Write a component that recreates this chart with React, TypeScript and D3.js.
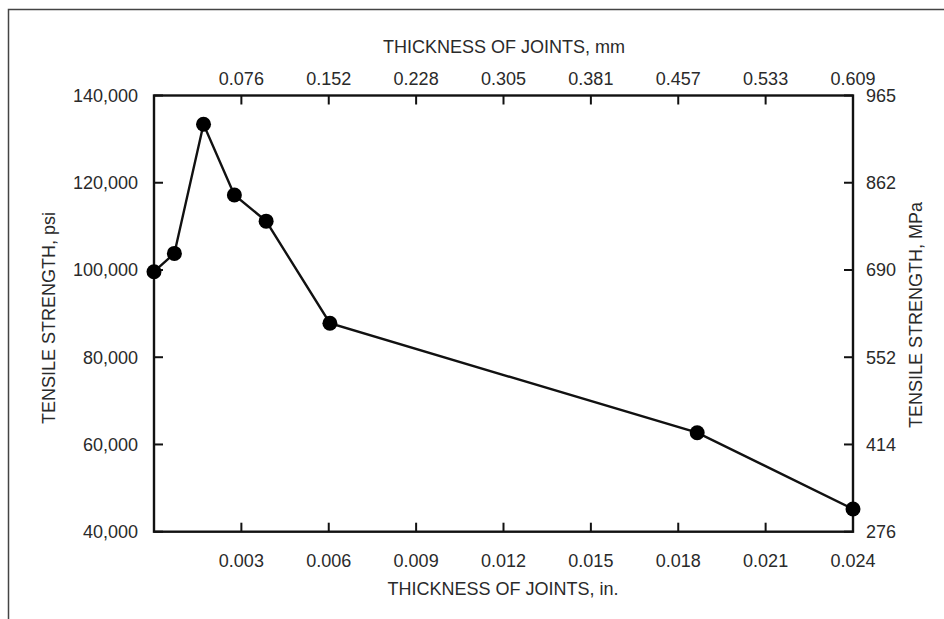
import React, { useEffect, useRef } from 'react';
import * as d3 from 'd3';

// thickness of joints (in.) and tensile strength (psi)
const thickness = [0.0, 0.0007, 0.0017, 0.00276, 0.00385, 0.00604, 0.01865, 0.024];
const strength = [99600, 103800, 133400, 117200, 111200, 87800, 62700, 45200];

const inTicks = [0.003, 0.006, 0.009, 0.012, 0.015, 0.018, 0.021, 0.024];
const mmLabels = ['0.076', '0.152', '0.228', '0.305', '0.381', '0.457', '0.533', '0.609'];
const psiTicks = [40000, 60000, 80000, 100000, 120000, 140000];
const mpaLabels = ['276', '414', '552', '690', '862', '965'];

const W = 944;
const H = 619;
const FONT = '"Liberation Sans", Arial, Helvetica, sans-serif';
const INK = '#111';
const TXT = '#2a2a2a';
const FS = 18;

export default function App() {
  const ref = useRef<SVGSVGElement>(null);

  useEffect(() => {
    const svg = d3.select(ref.current);
    svg.selectAll('*').remove();

    const left = 154, right = 853, top = 95.5, bottom = 531.7;
    const x = d3.scaleLinear().domain([0, 0.024]).range([left, right]);
    const y = d3.scaleLinear().domain([40000, 140000]).range([bottom, top]);

    // outer frame (top and left only visible)
    svg.append('path')
      .attr('d', `M8.5,${H} L8.5,9.5 L${W},9.5`)
      .attr('fill', 'none')
      .attr('stroke', '#444')
      .attr('stroke-width', 1.5);

    // plot box
    svg.append('rect')
      .attr('x', left).attr('y', top)
      .attr('width', right - left).attr('height', bottom - top)
      .attr('fill', 'none')
      .attr('stroke', INK)
      .attr('stroke-width', 2.4);

    const g = svg.append('g').attr('font-family', FONT).attr('fill', TXT).attr('font-size', FS);

    // x ticks, bottom (in.) and top (mm)
    inTicks.forEach((t, i) => {
      const px = x(t);
      svg.append('line')
        .attr('x1', px).attr('x2', px).attr('y1', bottom).attr('y2', bottom - 9)
        .attr('stroke', INK).attr('stroke-width', 2);
      svg.append('line')
        .attr('x1', px).attr('x2', px).attr('y1', top).attr('y2', top + 9)
        .attr('stroke', INK).attr('stroke-width', 2);
      g.append('text')
        .attr('x', px).attr('y', 567)
        .attr('text-anchor', 'middle')
        .text(d3.format('.3f')(t));
      g.append('text')
        .attr('x', px).attr('y', 85)
        .attr('text-anchor', 'middle')
        .text(mmLabels[i]);
    });

    // y ticks, left (psi) and right (MPa)
    psiTicks.forEach((t, i) => {
      const py = y(t);
      svg.append('line')
        .attr('x1', left).attr('x2', left + 9).attr('y1', py).attr('y2', py)
        .attr('stroke', INK).attr('stroke-width', 2);
      svg.append('line')
        .attr('x1', right).attr('x2', right - 9).attr('y1', py).attr('y2', py)
        .attr('stroke', INK).attr('stroke-width', 2);
      g.append('text')
        .attr('x', 138).attr('y', py + 6.5)
        .attr('text-anchor', 'end')
        .text(d3.format(',')(t));
      g.append('text')
        .attr('x', 866).attr('y', py + 6.5)
        .attr('text-anchor', 'start')
        .text(mpaLabels[i]);
    });

    // axis titles
    g.append('text')
      .attr('x', 504).attr('y', 53)
      .attr('text-anchor', 'middle')
      .text('THICKNESS OF JOINTS, mm');
    g.append('text')
      .attr('x', 503).attr('y', 595)
      .attr('text-anchor', 'middle')
      .text('THICKNESS OF JOINTS, in.');
    g.append('text')
      .attr('transform', 'translate(55,318) rotate(-90)')
      .attr('text-anchor', 'middle')
      .text('TENSILE STRENGTH, psi');
    g.append('text')
      .attr('transform', 'translate(922,315) rotate(-90)')
      .attr('text-anchor', 'middle')
      .text('TENSILE STRENGTH, MPa');

    // data line and points
    const pts = thickness.map((t, i) => [t, strength[i]] as [number, number]);
    const line = d3.line<[number, number]>().x(d => x(d[0])).y(d => y(d[1]));
    svg.append('path')
      .attr('d', line(pts))
      .attr('fill', 'none')
      .attr('stroke', INK)
      .attr('stroke-width', 2.4);

    svg.selectAll('circle.pt')
      .data(pts)
      .enter()
      .append('circle')
      .attr('class', 'pt')
      .attr('cx', d => x(d[0]))
      .attr('cy', d => y(d[1]))
      .attr('r', 7.5)
      .attr('fill', '#000');
  }, []);

  return (
    <svg ref={ref} width={W} height={H} style={{ position: 'absolute', left: 0, top: 0, background: '#fff' }} />
  );
}
